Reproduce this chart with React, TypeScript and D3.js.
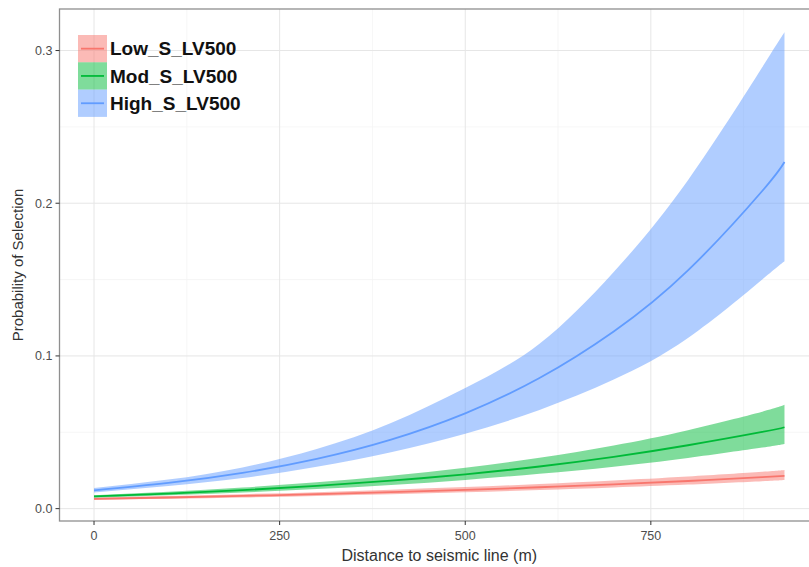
import React from 'react';
import * as d3 from 'd3';

const distance = [0, 100, 200, 300, 400, 500, 600, 700, 800, 900, 930];

const lowFit = [0.0064, 0.0073, 0.0083, 0.0095, 0.0108, 0.0123, 0.014, 0.0159, 0.0181, 0.0206, 0.0214];
const lowUpper = [0.0072, 0.0083, 0.0095, 0.0108, 0.0124, 0.0141, 0.0161, 0.0184, 0.021, 0.0241, 0.0253];
const lowLower = [0.0056, 0.0064, 0.0073, 0.0083, 0.0094, 0.0107, 0.0122, 0.0139, 0.0158, 0.018, 0.0188];

const modFit = [0.008, 0.0098, 0.0121, 0.0149, 0.0183, 0.0225, 0.0276, 0.0339, 0.0415, 0.0502, 0.0533];
const modUpper = [0.0088, 0.011, 0.0138, 0.0172, 0.0215, 0.0267, 0.0333, 0.0414, 0.0514, 0.0635, 0.068];
const modLower = [0.0072, 0.0088, 0.0106, 0.0128, 0.0155, 0.0188, 0.0228, 0.0275, 0.0332, 0.04, 0.0424];

const highFit = [0.012, 0.0168, 0.0234, 0.0326, 0.0452, 0.0624, 0.0855, 0.116, 0.156, 0.208, 0.227];
const highUpper = [0.0135, 0.019, 0.027, 0.039, 0.056, 0.079, 0.108, 0.155, 0.215, 0.289, 0.312];
const highLower = [0.0105, 0.0148, 0.02, 0.0275, 0.037, 0.049, 0.0646, 0.0845, 0.1117, 0.15, 0.162];

const seriesNames = ['Low_S_LV500', 'Mod_S_LV500', 'High_S_LV500'];
const seriesColors = ['#F8766D', '#00BA38', '#619CFF'];

const xTicks = [0, 250, 500, 750];
const xMinor = [125, 375, 625, 875];
const yTicks = [0, 0.1, 0.2, 0.3];
const yMinor = [0.05, 0.15, 0.25];

const W = 809;
const H = 567;
const panel = { l: 59.5, r: 819, t: 9, b: 521 };

const series = [
  { fit: lowFit, upper: lowUpper, lower: lowLower },
  { fit: modFit, upper: modUpper, lower: modLower },
  { fit: highFit, upper: highUpper, lower: highLower },
];

export default function App() {
  const x = d3.scaleLinear().domain([-46.5, 976.5]).range([panel.l, panel.r]);
  const y = d3.scaleLinear().domain([-0.0081, 0.3272]).range([panel.b, panel.t]);

  const area = d3
    .area<number>()
    .x((i) => x(distance[i]))
    .curve(d3.curveNatural);
  const line = d3
    .line<number>()
    .x((i) => x(distance[i]))
    .curve(d3.curveNatural);
  const idx = distance.map((_, i) => i);

  const axisGrey = '#4d4d4d';
  const font = 'Liberation Sans, Arial, sans-serif';
  const keyX = 78;
  const keyW = 29;
  const keyH = 27.3;
  const keyTop = 35;

  return (
    <div style={{ position: 'absolute', left: 0, top: 0 }}>
      <svg width={W} height={H} style={{ display: 'block', background: '#fff' }}>
        <defs>
          <clipPath id="panel">
            <rect x={panel.l} y={panel.t} width={panel.r - panel.l} height={panel.b - panel.t} />
          </clipPath>
        </defs>
        <rect x={panel.l} y={panel.t} width={panel.r - panel.l} height={panel.b - panel.t} fill="#fff" />
        <g clipPath="url(#panel)">
          {xMinor.map((v) => (
            <line key={'xm' + v} x1={x(v)} x2={x(v)} y1={panel.t} y2={panel.b} stroke="#f4f4f4" strokeWidth={0.8} />
          ))}
          {yMinor.map((v) => (
            <line key={'ym' + v} x1={panel.l} x2={panel.r} y1={y(v)} y2={y(v)} stroke="#f4f4f4" strokeWidth={0.8} />
          ))}
          {xTicks.map((v) => (
            <line key={'xg' + v} x1={x(v)} x2={x(v)} y1={panel.t} y2={panel.b} stroke="#e6e6e6" strokeWidth={1} />
          ))}
          {yTicks.map((v) => (
            <line key={'yg' + v} x1={panel.l} x2={panel.r} y1={y(v)} y2={y(v)} stroke="#e6e6e6" strokeWidth={1} />
          ))}
          {series.map((s, k) => (
            <path
              key={'rib' + k}
              d={area.y0((i) => y(s.lower[i])).y1((i) => y(s.upper[i]))(idx) || ''}
              fill={seriesColors[k]}
              fillOpacity={0.5}
            />
          ))}
          {series.map((s, k) => (
            <path
              key={'ln' + k}
              d={line.y((i) => y(s.fit[i]))(idx) || ''}
              fill="none"
              stroke={seriesColors[k]}
              strokeWidth={1.8}
            />
          ))}
        </g>
        <rect
          x={panel.l}
          y={panel.t}
          width={panel.r - panel.l}
          height={panel.b - panel.t}
          fill="none"
          stroke="#8f8f8f"
          strokeWidth={1.3}
        />
        {xTicks.map((v) => (
          <g key={'xt' + v}>
            <line x1={x(v)} x2={x(v)} y1={panel.b} y2={panel.b + 4} stroke="#333" strokeWidth={1} />
            <text x={x(v)} y={panel.b + 19} textAnchor="middle" fontSize={12.5} fill={axisGrey} fontFamily={font}>
              {v}
            </text>
          </g>
        ))}
        {yTicks.map((v) => (
          <g key={'yt' + v}>
            <line x1={panel.l - 4} x2={panel.l} y1={y(v)} y2={y(v)} stroke="#333" strokeWidth={1} />
            <text
              x={panel.l - 7}
              y={y(v)}
              dy="0.35em"
              textAnchor="end"
              fontSize={12.5}
              fill={axisGrey}
              fontFamily={font}
            >
              {v.toFixed(1)}
            </text>
          </g>
        ))}
        <text x={(panel.l + panel.r) / 2} y={561} textAnchor="middle" fontSize={16} fill="#333" fontFamily={font}>
          Distance to seismic line (m)
        </text>
        <text
          transform={`translate(23,${(panel.t + panel.b) / 2}) rotate(-90)`}
          textAnchor="middle"
          fontSize={15}
          fill="#333"
          fontFamily={font}
        >
          Probability of Selection
        </text>
        {seriesNames.map((name, k) => {
          const top = keyTop + k * keyH;
          return (
            <g key={name}>
              <rect x={keyX} y={top} width={keyW} height={keyH} fill={seriesColors[k]} fillOpacity={0.5} />
              <line
                x1={keyX + 3}
                x2={keyX + keyW - 3}
                y1={top + keyH / 2}
                y2={top + keyH / 2}
                stroke={seriesColors[k]}
                strokeWidth={1.8}
              />
              <text
                x={keyX + keyW + 3}
                y={top + keyH / 2}
                dy="0.36em"
                fontSize={19}
                fontWeight="bold"
                fill="#111"
                fontFamily={font}
              >
                {name}
              </text>
            </g>
          );
        })}
      </svg>
    </div>
  );
}
